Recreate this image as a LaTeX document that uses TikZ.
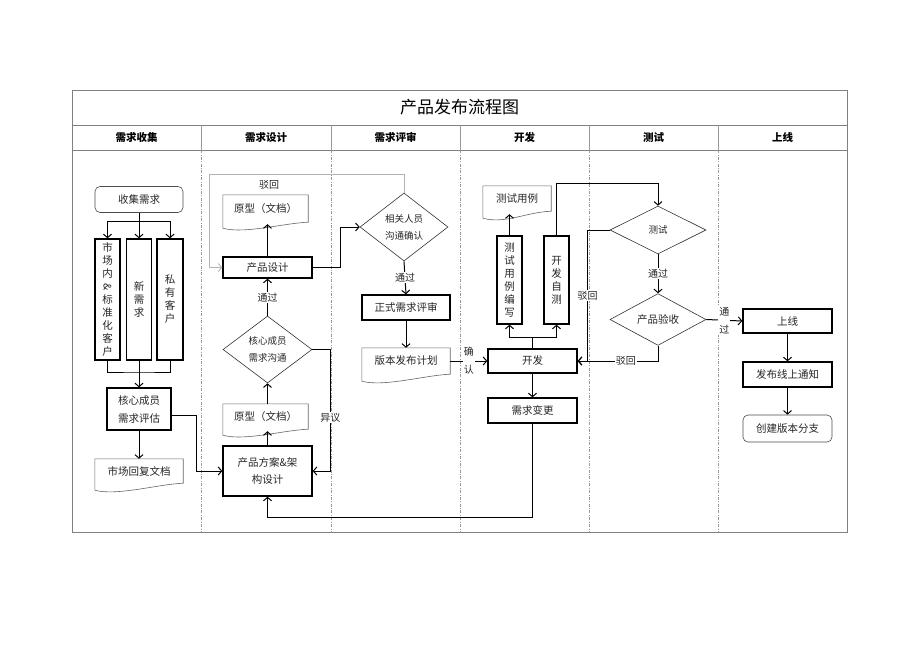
\documentclass[tikz,border=0pt]{standalone}
\usepackage{fontspec}
\setmainfont{Noto Sans CJK SC}
\usetikzlibrary{arrows.meta,shapes.geometric,calc}
\newcommand\bodyfont{\fontsize{10.5pt}{13pt}\selectfont}
\newcommand\docoutline[2]{%
  \draw[docline] ([yshift=-#2pt]#1.south west) -- (#1.north west) -- (#1.north east) -- (#1.south east)
    .. controls +(-25pt,-1pt) and +(22pt,-6pt) .. ([yshift=-#2pt]#1.south west);}
\tikzset{
  frameline/.style={draw=black!50, line width=0.8pt},
  sepsolid/.style={draw=black!40, line width=0.7pt},
  sepdash/.style={draw=black!40, line width=0.6pt, dash pattern=on 3pt off 1.5pt on 0.8pt off 1.5pt},
  hdr/.style={font=\fontsize{10.5pt}{12pt}\selectfont\bfseries},
  box/.style={draw=black, line width=1.3pt, inner sep=0pt, font=\bodyfont, align=center, text=black!85},
  vbox/.style={box, font=\fontsize{10.5pt}{13pt}\selectfont},
  rbox/.style={draw=black!70, line width=0.6pt, rounded corners=5pt, inner sep=0pt, font=\bodyfont, text=black!85},
  dia/.style={diamond, draw=black!80, line width=0.6pt, inner sep=0pt, align=center, font=\fontsize{9.5pt}{17pt}\selectfont, text=black!85},
  docnode/.style={inner sep=0pt, font=\bodyfont, text=black!85},
  docline/.style={draw=black!60, line width=0.6pt},
  conn/.style={draw=black, line width=1pt},
  arr/.style={conn, -{Straight Barb[length=3.5pt,width=8pt]}},
  grayarr/.style={draw=black!30, line width=0.8pt, -{Straight Barb[length=3.5pt,width=8pt]}},
  lbl/.style={fill=white, inner sep=1pt, font=\fontsize{10pt}{18pt}\selectfont, align=center, text=black!85},
}
\begin{document}
\begin{tikzpicture}[x=1pt,y=-1pt]
\useasboundingbox (0,0) rectangle (920,651);
\fill[white] (0,0) rectangle (920,651);
% frame
\draw[frameline] (72,90) rectangle (847,532);
\draw[frameline] (72,125) -- (847,125);
\draw[frameline] (72,150) -- (847,150);
\foreach \xx in {201,331,460,589,718} {
  \draw[sepsolid] (\xx,125) -- (\xx,150);
  \draw[sepdash] (\xx,150) -- (\xx,532);
}
\node[font=\fontsize{17pt}{17pt}\selectfont] (title) at (459.5,107.5) {产品发布流程图};
\node[hdr] (h1) at (136.5,137.5) {需求收集};
\node[hdr] (h2) at (266,137.5) {需求设计};
\node[hdr] (h3) at (395.5,137.5) {需求评审};
\node[hdr] (h4) at (524.5,137.5) {开发};
\node[hdr] (h5) at (653.5,137.5) {测试};
\node[hdr] (h6) at (782.5,137.5) {上线};

% column 1
\node[rbox, minimum width=88pt, minimum height=26pt] (collect) at (139,199.5) {收集需求};
\node[vbox, minimum width=25pt, minimum height=121pt] (c1) at (107.5,299.5) {市\\场\\内\\\rotatebox[origin=c]{-90}{\&}\\标\\准\\化\\客\\户};
\node[vbox, minimum width=25pt, minimum height=121pt] (c2) at (139,299.5) {新\\需\\求};
\node[vbox, minimum width=26pt, minimum height=121pt] (c3) at (170,299.5) {私\\有\\客\\户};
\node[box, minimum width=64pt, minimum height=42pt, font=\fontsize{10.5pt}{18pt}\selectfont] (eval) at (139,409) {核心成员\\需求评估};
\node[docnode, minimum width=88pt, minimum height=24pt] (mdoc) at (139,471) {市场回复文档};
\docoutline{mdoc}{7}

% column 2
\node[docnode, minimum width=85pt, minimum height=27pt] (proto1) at (265.5,208.5) {原型（文档）};
\docoutline{proto1}{6}
\node[box, minimum width=89pt, minimum height=21pt] (pdesign) at (267.5,267.5) {产品设计};
\node[dia, minimum width=89pt, minimum height=67pt] (cored) at (267.5,349.5) {核心成员\\需求沟通};
\node[docnode, minimum width=85pt, minimum height=25pt] (proto2) at (265.5,416.5) {原型（文档）};
\docoutline{proto2}{6}
\node[box, minimum width=89pt, minimum height=50pt, font=\fontsize{10.5pt}{17pt}\selectfont] (scheme) at (267.5,471) {产品方案\&架\\构设计};

% column 3
\node[dia, minimum width=88pt, minimum height=68pt] (revd) at (404,227) {相关人员\\沟通确认};
\node[box, minimum width=88pt, minimum height=25pt] (formal) at (406,307.5) {正式需求评审};
\node[docnode, minimum width=88pt, minimum height=26pt] (plan) at (406,361) {版本发布计划};
\docoutline{plan}{7}

% column 4
\node[docnode, minimum width=68pt, minimum height=25pt] (tcase) at (517,198.5) {测试用例};
\docoutline{tcase}{7}
\node[vbox, minimum width=25pt, minimum height=88pt] (tw) at (509.5,280) {测\\试\\用\\例\\编\\写};
\node[vbox, minimum width=25pt, minimum height=88pt] (st) at (556.5,280) {开\\发\\自\\测};
\node[box, minimum width=89pt, minimum height=24pt] (dev) at (532.5,361) {开发};
\node[box, minimum width=89pt, minimum height=25pt] (change) at (532.5,410.5) {需求变更};

% column 5
\node[dia, minimum width=96pt, minimum height=48pt] (testd) at (658,230) {测试};
\node[dia, minimum width=96pt, minimum height=49pt, font=\bodyfont] (accd) at (658,319.5) {产品验收};

% column 6
\node[box, minimum width=89pt, minimum height=24pt] (launch) at (787.5,321) {上线};
\node[box, minimum width=89pt, minimum height=25pt] (notify) at (787.5,374.5) {发布线上通知};
\node[rbox, minimum width=89pt, minimum height=27pt] (branch) at (787.5,428.5) {创建版本分支};

% connectors column 1
\draw[conn] (collect.south) -- ++(0,9) coordinate (b1);
\draw[arr] (b1) -| (c1.north);
\draw[arr] (b1) -| (c3.north);
\draw[arr] (collect.south) -- (c2.north);
\draw[conn] (c1.south) |- (c2.south |- 0,372) coordinate (m1) -| (c3.south);
\draw[arr] (c2.south) -- (eval.north);
\draw[arr] (eval.south) -- (mdoc.north);
\draw[arr] ([yshift=-6pt]eval.east) -- ++(25,0) |- (scheme.west);

% column 2
\draw[arr] (pdesign.north) -- ([yshift=-2pt]pdesign.north |- proto1.south);
\draw[arr] (cored.north) -- node[lbl]{通过} (pdesign.south);
\draw[arr] (cored.east) -- ++(18,0) |- node[lbl, pos=0.28]{异议} (scheme.east);
\draw[arr] (cored.south |- proto2.north) -- (cored.south);
\draw[arr] (scheme.north) -- ([yshift=-2pt]scheme.north |- proto2.south);
\draw[arr] (change.south) -- ++(0,94) -| (scheme.south);

% column 3
\draw[arr] (pdesign.east) -- ++(28,0) |- (revd.west);
\coordinate (rj) at (209,174);
\draw[grayarr] (revd.north) |- (rj) |- (pdesign.west);
\node[lbl, fill=none] (bh1) at (269,185) {驳回};
\draw[arr] (revd.south) -- node[lbl]{通过} (formal.north);
\draw[arr] (formal.south) -- (plan.north);
\draw[arr] (plan.east) -- node[lbl]{确\\认} (dev.west);

% column 4
\draw[conn] (dev.north) -- ++(0,-11) coordinate (dj);
\draw[arr] (dj) -| (tw.south);
\draw[arr] (dj) -| (st.south);
\draw[arr] (tw.north) -- ([yshift=-3pt]tw.north |- tcase.south);
\draw[arr] (st.north) -- ++(0,-52) -| (testd.north);
\draw[arr] (dev.south) -- (change.north);

% column 5
\draw[arr] (testd.west) -- ++(-22,0) |- node[lbl, pos=0.25]{驳回} (dev.east);
\draw[arr] (testd.south) -- node[lbl]{通过} (accd.north);
\draw[arr] (accd.south) |- node[lbl, pos=0.7]{驳回} (dev.east);
\draw[arr] (accd.east) -- node[lbl]{通\\过} (launch.west);

% column 6
\draw[arr] (launch.south) -- (notify.north);
\draw[arr] (notify.south) -- (branch.north);
\end{tikzpicture}
\end{document}
